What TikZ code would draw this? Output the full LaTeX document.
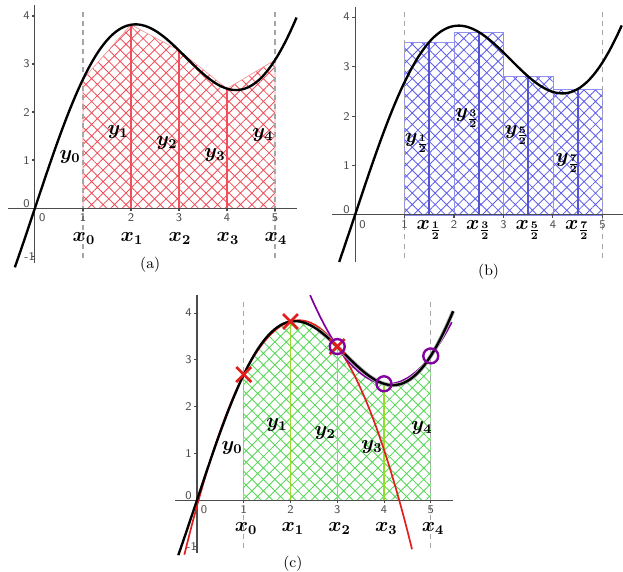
\documentclass[tikz,border=0pt]{standalone}
\usepackage{amsmath}
\usepackage{tikz}
\usetikzlibrary{patterns.meta}

\definecolor{hatchred}{RGB}{240,80,90}
\definecolor{hatchblue}{RGB}{95,95,235}
\definecolor{hatchgreen}{RGB}{85,215,85}
\definecolor{limegreen}{RGB}{150,220,40}
\definecolor{simpred}{RGB}{225,30,30}
\definecolor{simppurple}{RGB}{130,0,160}

% axes with ticks: #1 prefix, #2 xmin, #3 xmax, #4 ymin, #5 ymax
\newcommand{\plotaxes}[5]{%
  \draw[axisline] (#2,0) -- (#3,0);
  \draw[axisline] (0,#4) -- (0,#5);
  \foreach \i in {1,...,5} \draw[axisline] (\i,0) -- (\i,-0.06);
  \foreach \i in {1,...,4} \draw[axisline] (0,\i) -- (-0.07,\i);
  \node[num] (#1ox) at (0.15,-0.2) {0};
  \foreach \i in {1,...,5} \node[num] (#1x\i) at (\i,-0.2) {\i};
  \node[num, anchor=east] (#1oy) at (-0.07,0.1) {0};
  \foreach \i in {1,...,4} \node[num, anchor=east] (#1y\i) at (-0.07,\i) {\i};
}

\begin{document}
\begin{tikzpicture}[
    declare function={f(\t)=\t+2*sin(\t r);
      simpa(\t)=2.68294+1.13565*(\t-1)-0.83600*(\t-1)*(\t-2);
      simpb(\t)=3.28224-0.79584*(\t-3)+0.69580*(\t-3)*(\t-4);},
    fn/.style={line width=1.4pt, black},
    axisline/.style={gray!60!black, line width=0.6pt},
    guide/.style={gray!70, line width=0.6pt, dash pattern=on 3pt off 2.5pt},
    num/.style={font=\sffamily\scriptsize, text=gray!60!black, inner sep=1pt},
    lab/.style={font=\large\boldmath, inner sep=0pt},
    captext/.style={font=\small, inner sep=1pt},
    redhatch/.style={pattern={Hatch[angle=45,distance=4.8pt,line width=0.5pt]}, pattern color=hatchred},
    bluehatch/.style={pattern={Hatch[angle=45,distance=4.8pt,line width=0.5pt]}, pattern color=hatchblue},
    greenhatch/.style={pattern={Hatch[angle=45,distance=4.8pt,line width=0.5pt]}, pattern color=hatchgreen},
    crossmk/.style={simpred, line width=1.6pt},
    ringmk/.style={simppurple, line width=1.4pt}
]
\useasboundingbox (0,0) rectangle (12.979,11.896);

% (a) trapezoids
\begin{scope}[shift={(0.729,7.5625)}]
  \fill[redhatch] (1,0) -- (1,{f(1)}) -- (2,{f(2)}) -- (3,{f(3)}) -- (4,{f(4)}) -- (5,{f(5)}) -- (5,0) -- cycle;
  \draw[hatchred!60, line width=0.4pt] (1,0) -- (1,{f(1)}) -- (2,{f(2)}) -- (3,{f(3)}) -- (4,{f(4)}) -- (5,{f(5)}) -- (5,0);
  \foreach \i in {2,3,4} \draw[hatchred, line width=0.8pt] (\i,0) -- (\i,{f(\i)});
  \draw[guide] (1,-1.04) -- (1,4.17);
  \draw[guide] (5,-1.04) -- (5,4.17);
  \plotaxes{a}{-0.56}{5.46}{-1.15}{4.22}
  \draw[axisline] (0,-1) -- (-0.07,-1);
  \node[num, anchor=east] (aym) at (0.04,-1) {-1};
  \draw[fn] plot[domain=-0.42:5.45, samples=90, smooth] (\x,{f(\x)});
  \node[lab] (ay0) at (0.73,1.06) {$y_0$};
  \node[lab] (ay1) at (1.73,1.58) {$y_1$};
  \node[lab] (ay2) at (2.75,1.35) {$y_2$};
  \node[lab] (ay3) at (3.75,1.10) {$y_3$};
  \node[lab] (ay4) at (4.75,1.52) {$y_4$};
  \foreach \i in {0,...,4} \node[lab] (axl\i) at (\i+1.02,-0.63) {$x_{\i}$};
  \node[captext] (capa) at (2.4,-1.19) {(a)};
\end{scope}

% (b) midpoint rectangles
\begin{scope}[shift={(7.396,7.417)}, scale=1.031]
  \foreach \i in {1,...,4} {
    \fill[bluehatch] (\i,0) rectangle (\i+1,{f(\i+0.5)});
    \draw[hatchblue!70, line width=0.5pt] (\i,0) rectangle (\i+1,{f(\i+0.5)});
    \draw[hatchblue!90!black, line width=1.2pt] (\i+0.5,0) -- (\i+0.5,{f(\i+0.5)});
  }
  \draw[guide] (1,-0.87) -- (1,4.14);
  \draw[guide] (5,-0.87) -- (5,4.14);
  \plotaxes{b}{-0.46}{5.42}{-0.95}{4.2}
  \draw[fn] plot[domain=-0.32:5.39, samples=90, smooth] (\x,{f(\x)});
  \node[lab] (by1) at (1.25,1.45) {$y_{\frac{1}{2}}$};
  \node[lab] (by3) at (2.27,1.96) {$y_{\frac{3}{2}}$};
  \node[lab] (by5) at (3.27,1.62) {$y_{\frac{5}{2}}$};
  \node[lab] (by7) at (4.30,1.05) {$y_{\frac{7}{2}}$};
  \node[lab] (bx1) at (1.5,-0.3) {$x_{\frac{1}{2}}$};
  \node[lab] (bx3) at (2.5,-0.3) {$x_{\frac{3}{2}}$};
  \node[lab] (bx5) at (3.5,-0.3) {$x_{\frac{5}{2}}$};
  \node[lab] (bx7) at (4.5,-0.3) {$x_{\frac{7}{2}}$};
  \node[captext] (capb) at (2.7,-1.15) {(b)};
\end{scope}

% (c) Simpson parabolas
\begin{scope}[shift={(4.104,1.479)}, scale=0.974]
  \fill[greenhatch] (1,0) -- plot[domain=1:3, samples=30] (\x,{simpa(\x)})
    -- plot[domain=3:5, samples=30] (\x,{simpb(\x)}) -- (5,0) -- cycle;
  \draw[hatchgreen!70, line width=0.4pt] (1,0) -- (1,{f(1)});
  \draw[hatchgreen!70, line width=0.4pt] (5,0) -- (5,{f(5)});
  \foreach \i in {2,3,4} \draw[limegreen, line width=0.8pt] (\i,0) -- (\i,{f(\i)});
  \draw[guide] (1,-1.03) -- (1,4.24);
  \draw[guide] (5,-1.03) -- (5,4.24);
  \plotaxes{c}{-0.47}{5.48}{-1.13}{4.38}
  \draw[axisline] (0,-1) -- (-0.07,-1);
  \node[num, anchor=east] (cym) at (0.04,-1) {-1};
  \draw[simpred, line width=1pt] plot[domain=-0.27:4.6, samples=60, smooth] (\x,{simpa(\x)});
  \draw[simppurple, line width=1pt] plot[domain=2.42:5.45, samples=60, smooth] (\x,{simpb(\x)});
  \draw[gray!60, line width=2.4pt] plot[domain=2.6:5.48, samples=60, smooth] (\x,{f(\x)});
  \draw[fn] plot[domain=-0.4:5.48, samples=90, smooth] (\x,{f(\x)});
  \foreach \i in {1,2,3}
    \draw[crossmk] (\i,{f(\i)}) +(-0.16,-0.16) -- +(0.16,0.16) +(-0.16,0.16) -- +(0.16,-0.16);
  \foreach \i in {3,4,5}
    \draw[ringmk] (\i,{f(\i)}) circle (0.16);
  \node[lab] (cy0) at (0.75,1.11) {$y_0$};
  \node[lab] (cy1) at (1.71,1.60) {$y_1$};
  \node[lab] (cy2) at (2.74,1.43) {$y_2$};
  \node[lab] (cy3) at (3.74,1.13) {$y_3$};
  \node[lab] (cy4) at (4.81,1.54) {$y_4$};
  \foreach \i in {0,...,4} \node[lab] (cxl\i) at (\i+1.05,-0.6) {$x_{\i}$};
  \node[captext] (capc) at (2.05,-1.36) {(c)};
\end{scope}
\end{tikzpicture}
\end{document}
